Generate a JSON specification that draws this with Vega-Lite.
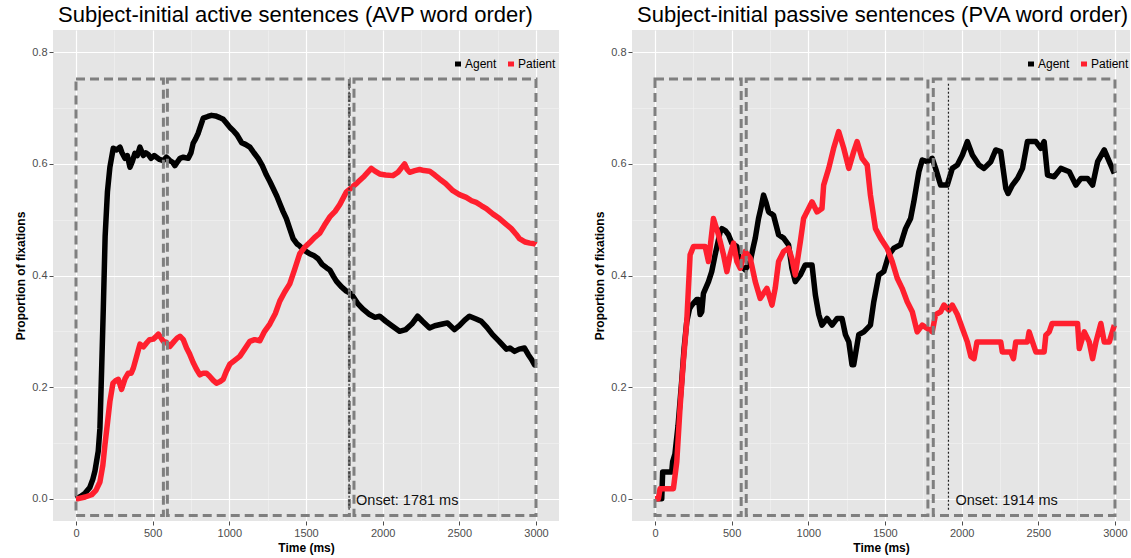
{
  "$schema": "https://vega.github.io/schema/vega-lite/v6.json",
  "background": "white",
  "padding": {"left": 14, "top": 4, "right": 0, "bottom": 4},
  "spacing": 34,
  "config": {
    "font": "Liberation Sans",
    "view": {"fill": "#E5E5E5", "stroke": null},
    "axis": {"domain": false, "labelColor": "#4D4D4D", "labelFontSize": 11, "labelPadding": 2, "tickColor": "#4D4D4D", "tickSize": 4, "titleFontSize": 12, "titleFontWeight": "bold", "titleColor": "black", "gridColor": "white"},
    "axisY": {"titlePadding": 4},
    "axisX": {"titlePadding": 4},
    "title": {"fontSize": 22, "fontWeight": "normal", "anchor": "start", "frame": "group", "dx": 5, "color": "black", "offset": 3},
    "legend": {"labelFontSize": 12, "labelColor": "black", "symbolType": "stroke", "symbolStrokeWidth": 5, "symbolSize": 36, "columnPadding": 1, "labelOffset": 1, "padding": 0}
  },
  "resolve": {"scale": {"color": "independent"}},
  "datasets": {
    "avp": [
      {"t":0,"p":0,"role":"Agent"},{"t":30,"p":0.004,"role":"Agent"},{"t":60,"p":0.01,"role":"Agent"},{"t":90,"p":0.02,"role":"Agent"},{"t":110,"p":0.035,"role":"Agent"},{"t":124,"p":0.05,"role":"Agent"},{"t":145,"p":0.085,"role":"Agent"},{"t":156,"p":0.126,"role":"Agent"},{"t":167,"p":0.23,"role":"Agent"},{"t":178,"p":0.34,"role":"Agent"},{"t":190,"p":0.47,"role":"Agent"},{"t":205,"p":0.55,"role":"Agent"},{"t":221,"p":0.594,"role":"Agent"},{"t":243,"p":0.628,"role":"Agent"},{"t":265,"p":0.625,"role":"Agent"},{"t":287,"p":0.63,"role":"Agent"},{"t":300,"p":0.62,"role":"Agent"},{"t":319,"p":0.61,"role":"Agent"},{"t":335,"p":0.615,"role":"Agent"},{"t":352,"p":0.594,"role":"Agent"},{"t":368,"p":0.605,"role":"Agent"},{"t":384,"p":0.619,"role":"Agent"},{"t":400,"p":0.615,"role":"Agent"},{"t":417,"p":0.63,"role":"Agent"},{"t":439,"p":0.615,"role":"Agent"},{"t":455,"p":0.62,"role":"Agent"},{"t":471,"p":0.617,"role":"Agent"},{"t":490,"p":0.61,"role":"Agent"},{"t":510,"p":0.615,"role":"Agent"},{"t":525,"p":0.612,"role":"Agent"},{"t":545,"p":0.608,"role":"Agent"},{"t":569,"p":0.606,"role":"Agent"},{"t":590,"p":0.612,"role":"Agent"},{"t":612,"p":0.606,"role":"Agent"},{"t":630,"p":0.603,"role":"Agent"},{"t":645,"p":0.597,"role":"Agent"},{"t":660,"p":0.603,"role":"Agent"},{"t":678,"p":0.61,"role":"Agent"},{"t":700,"p":0.612,"role":"Agent"},{"t":732,"p":0.61,"role":"Agent"},{"t":750,"p":0.62,"role":"Agent"},{"t":764,"p":0.637,"role":"Agent"},{"t":780,"p":0.645,"role":"Agent"},{"t":797,"p":0.655,"role":"Agent"},{"t":815,"p":0.67,"role":"Agent"},{"t":830,"p":0.682,"role":"Agent"},{"t":860,"p":0.685,"role":"Agent"},{"t":884,"p":0.687,"role":"Agent"},{"t":910,"p":0.686,"role":"Agent"},{"t":938,"p":0.683,"role":"Agent"},{"t":960,"p":0.68,"role":"Agent"},{"t":982,"p":0.673,"role":"Agent"},{"t":1005,"p":0.665,"role":"Agent"},{"t":1025,"p":0.66,"role":"Agent"},{"t":1050,"p":0.652,"role":"Agent"},{"t":1080,"p":0.638,"role":"Agent"},{"t":1105,"p":0.635,"role":"Agent"},{"t":1134,"p":0.63,"role":"Agent"},{"t":1160,"p":0.62,"role":"Agent"},{"t":1188,"p":0.61,"role":"Agent"},{"t":1215,"p":0.597,"role":"Agent"},{"t":1242,"p":0.58,"role":"Agent"},{"t":1265,"p":0.568,"role":"Agent"},{"t":1286,"p":0.556,"role":"Agent"},{"t":1310,"p":0.542,"role":"Agent"},{"t":1329,"p":0.529,"role":"Agent"},{"t":1350,"p":0.515,"role":"Agent"},{"t":1372,"p":0.502,"role":"Agent"},{"t":1395,"p":0.483,"role":"Agent"},{"t":1416,"p":0.466,"role":"Agent"},{"t":1440,"p":0.457,"role":"Agent"},{"t":1459,"p":0.453,"role":"Agent"},{"t":1490,"p":0.445,"role":"Agent"},{"t":1524,"p":0.439,"role":"Agent"},{"t":1550,"p":0.436,"role":"Agent"},{"t":1579,"p":0.43,"role":"Agent"},{"t":1605,"p":0.42,"role":"Agent"},{"t":1633,"p":0.414,"role":"Agent"},{"t":1655,"p":0.41,"role":"Agent"},{"t":1680,"p":0.398,"role":"Agent"},{"t":1698,"p":0.39,"role":"Agent"},{"t":1730,"p":0.38,"role":"Agent"},{"t":1763,"p":0.372,"role":"Agent"},{"t":1796,"p":0.367,"role":"Agent"},{"t":1839,"p":0.349,"role":"Agent"},{"t":1870,"p":0.34,"role":"Agent"},{"t":1915,"p":0.33,"role":"Agent"},{"t":1950,"p":0.325,"role":"Agent"},{"t":1980,"p":0.327,"role":"Agent"},{"t":2020,"p":0.318,"role":"Agent"},{"t":2060,"p":0.31,"role":"Agent"},{"t":2110,"p":0.3,"role":"Agent"},{"t":2150,"p":0.303,"role":"Agent"},{"t":2190,"p":0.313,"role":"Agent"},{"t":2228,"p":0.327,"role":"Agent"},{"t":2260,"p":0.318,"role":"Agent"},{"t":2306,"p":0.306,"role":"Agent"},{"t":2340,"p":0.31,"role":"Agent"},{"t":2390,"p":0.313,"role":"Agent"},{"t":2423,"p":0.315,"role":"Agent"},{"t":2468,"p":0.303,"role":"Agent"},{"t":2500,"p":0.31,"role":"Agent"},{"t":2535,"p":0.32,"role":"Agent"},{"t":2566,"p":0.327,"role":"Agent"},{"t":2610,"p":0.322,"role":"Agent"},{"t":2643,"p":0.318,"role":"Agent"},{"t":2680,"p":0.307,"role":"Agent"},{"t":2717,"p":0.294,"role":"Agent"},{"t":2760,"p":0.282,"role":"Agent"},{"t":2807,"p":0.268,"role":"Agent"},{"t":2830,"p":0.27,"role":"Agent"},{"t":2860,"p":0.264,"role":"Agent"},{"t":2890,"p":0.268,"role":"Agent"},{"t":2925,"p":0.27,"role":"Agent"},{"t":2950,"p":0.258,"role":"Agent"},{"t":2970,"p":0.25,"role":"Agent"},{"t":2990,"p":0.24,"role":"Agent"},{"t":3000,"p":0.238,"role":"Agent"},
      {"t":0,"p":0,"role":"Patient"},{"t":15,"p":0,"role":"Patient"},{"t":60,"p":0.003,"role":"Patient"},{"t":102,"p":0.007,"role":"Patient"},{"t":130,"p":0.015,"role":"Patient"},{"t":156,"p":0.03,"role":"Patient"},{"t":175,"p":0.06,"role":"Patient"},{"t":189,"p":0.097,"role":"Patient"},{"t":205,"p":0.135,"role":"Patient"},{"t":221,"p":0.174,"role":"Patient"},{"t":241,"p":0.207,"role":"Patient"},{"t":260,"p":0.212,"role":"Patient"},{"t":276,"p":0.214,"role":"Patient"},{"t":297,"p":0.196,"role":"Patient"},{"t":320,"p":0.215,"role":"Patient"},{"t":341,"p":0.225,"role":"Patient"},{"t":360,"p":0.225,"role":"Patient"},{"t":374,"p":0.234,"role":"Patient"},{"t":395,"p":0.255,"role":"Patient"},{"t":417,"p":0.277,"role":"Patient"},{"t":440,"p":0.272,"role":"Patient"},{"t":460,"p":0.279,"role":"Patient"},{"t":480,"p":0.285,"role":"Patient"},{"t":504,"p":0.286,"role":"Patient"},{"t":520,"p":0.29,"role":"Patient"},{"t":537,"p":0.295,"role":"Patient"},{"t":555,"p":0.288,"role":"Patient"},{"t":569,"p":0.282,"role":"Patient"},{"t":590,"p":0.28,"role":"Patient"},{"t":612,"p":0.273,"role":"Patient"},{"t":640,"p":0.282,"role":"Patient"},{"t":660,"p":0.288,"role":"Patient"},{"t":678,"p":0.291,"role":"Patient"},{"t":700,"p":0.285,"role":"Patient"},{"t":721,"p":0.27,"role":"Patient"},{"t":740,"p":0.26,"role":"Patient"},{"t":764,"p":0.244,"role":"Patient"},{"t":786,"p":0.232,"role":"Patient"},{"t":808,"p":0.222,"role":"Patient"},{"t":830,"p":0.225,"role":"Patient"},{"t":851,"p":0.225,"role":"Patient"},{"t":870,"p":0.22,"role":"Patient"},{"t":895,"p":0.212,"role":"Patient"},{"t":916,"p":0.207,"role":"Patient"},{"t":940,"p":0.21,"role":"Patient"},{"t":960,"p":0.214,"role":"Patient"},{"t":980,"p":0.228,"role":"Patient"},{"t":1003,"p":0.241,"role":"Patient"},{"t":1035,"p":0.248,"role":"Patient"},{"t":1068,"p":0.255,"role":"Patient"},{"t":1100,"p":0.268,"role":"Patient"},{"t":1134,"p":0.282,"role":"Patient"},{"t":1165,"p":0.285,"role":"Patient"},{"t":1199,"p":0.283,"role":"Patient"},{"t":1230,"p":0.3,"role":"Patient"},{"t":1264,"p":0.313,"role":"Patient"},{"t":1300,"p":0.332,"role":"Patient"},{"t":1329,"p":0.354,"role":"Patient"},{"t":1360,"p":0.37,"role":"Patient"},{"t":1394,"p":0.385,"role":"Patient"},{"t":1425,"p":0.41,"role":"Patient"},{"t":1459,"p":0.439,"role":"Patient"},{"t":1490,"p":0.45,"role":"Patient"},{"t":1524,"p":0.459,"role":"Patient"},{"t":1555,"p":0.468,"role":"Patient"},{"t":1590,"p":0.476,"role":"Patient"},{"t":1620,"p":0.49,"role":"Patient"},{"t":1655,"p":0.505,"role":"Patient"},{"t":1690,"p":0.515,"role":"Patient"},{"t":1720,"p":0.527,"role":"Patient"},{"t":1764,"p":0.55,"role":"Patient"},{"t":1800,"p":0.558,"role":"Patient"},{"t":1837,"p":0.567,"role":"Patient"},{"t":1880,"p":0.578,"role":"Patient"},{"t":1926,"p":0.592,"role":"Patient"},{"t":1950,"p":0.587,"role":"Patient"},{"t":1980,"p":0.582,"role":"Patient"},{"t":2020,"p":0.58,"role":"Patient"},{"t":2067,"p":0.579,"role":"Patient"},{"t":2100,"p":0.585,"role":"Patient"},{"t":2143,"p":0.6,"role":"Patient"},{"t":2160,"p":0.59,"role":"Patient"},{"t":2176,"p":0.585,"role":"Patient"},{"t":2210,"p":0.588,"role":"Patient"},{"t":2241,"p":0.59,"role":"Patient"},{"t":2270,"p":0.588,"role":"Patient"},{"t":2306,"p":0.587,"role":"Patient"},{"t":2340,"p":0.58,"role":"Patient"},{"t":2371,"p":0.573,"role":"Patient"},{"t":2410,"p":0.565,"role":"Patient"},{"t":2458,"p":0.552,"role":"Patient"},{"t":2500,"p":0.545,"role":"Patient"},{"t":2545,"p":0.54,"role":"Patient"},{"t":2580,"p":0.534,"role":"Patient"},{"t":2610,"p":0.531,"role":"Patient"},{"t":2645,"p":0.525,"role":"Patient"},{"t":2676,"p":0.52,"role":"Patient"},{"t":2720,"p":0.51,"role":"Patient"},{"t":2762,"p":0.502,"role":"Patient"},{"t":2800,"p":0.493,"role":"Patient"},{"t":2839,"p":0.484,"role":"Patient"},{"t":2870,"p":0.474,"role":"Patient"},{"t":2892,"p":0.466,"role":"Patient"},{"t":2930,"p":0.46,"role":"Patient"},{"t":2960,"p":0.458,"role":"Patient"},{"t":2990,"p":0.457,"role":"Patient"},{"t":3000,"p":0.455,"role":"Patient"}
    ],
    "pva": [
      {"t":0,"p":0,"role":"Agent"},{"t":44,"p":0,"role":"Agent"},{"t":50,"p":0.048,"role":"Agent"},{"t":109,"p":0.048,"role":"Agent"},{"t":115,"p":0.066,"role":"Agent"},{"t":130,"p":0.08,"role":"Agent"},{"t":150,"p":0.13,"role":"Agent"},{"t":174,"p":0.21,"role":"Agent"},{"t":190,"p":0.27,"role":"Agent"},{"t":207,"p":0.317,"role":"Agent"},{"t":225,"p":0.34,"role":"Agent"},{"t":240,"p":0.347,"role":"Agent"},{"t":272,"p":0.357,"role":"Agent"},{"t":285,"p":0.357,"role":"Agent"},{"t":294,"p":0.33,"role":"Agent"},{"t":305,"p":0.335,"role":"Agent"},{"t":316,"p":0.368,"role":"Agent"},{"t":349,"p":0.389,"role":"Agent"},{"t":370,"p":0.407,"role":"Agent"},{"t":392,"p":0.437,"role":"Agent"},{"t":425,"p":0.478,"role":"Agent"},{"t":436,"p":0.484,"role":"Agent"},{"t":460,"p":0.48,"role":"Agent"},{"t":479,"p":0.473,"role":"Agent"},{"t":501,"p":0.458,"role":"Agent"},{"t":534,"p":0.452,"role":"Agent"},{"t":556,"p":0.419,"role":"Agent"},{"t":588,"p":0.41,"role":"Agent"},{"t":621,"p":0.425,"role":"Agent"},{"t":640,"p":0.45,"role":"Agent"},{"t":654,"p":0.467,"role":"Agent"},{"t":675,"p":0.502,"role":"Agent"},{"t":690,"p":0.52,"role":"Agent"},{"t":708,"p":0.544,"role":"Agent"},{"t":725,"p":0.53,"role":"Agent"},{"t":741,"p":0.514,"role":"Agent"},{"t":773,"p":0.508,"role":"Agent"},{"t":790,"p":0.49,"role":"Agent"},{"t":806,"p":0.473,"role":"Agent"},{"t":839,"p":0.467,"role":"Agent"},{"t":871,"p":0.455,"role":"Agent"},{"t":893,"p":0.413,"role":"Agent"},{"t":915,"p":0.389,"role":"Agent"},{"t":948,"p":0.401,"role":"Agent"},{"t":980,"p":0.419,"role":"Agent"},{"t":1024,"p":0.419,"role":"Agent"},{"t":1046,"p":0.365,"role":"Agent"},{"t":1068,"p":0.33,"role":"Agent"},{"t":1089,"p":0.311,"role":"Agent"},{"t":1122,"p":0.323,"role":"Agent"},{"t":1155,"p":0.311,"role":"Agent"},{"t":1188,"p":0.323,"role":"Agent"},{"t":1220,"p":0.323,"role":"Agent"},{"t":1242,"p":0.294,"role":"Agent"},{"t":1264,"p":0.281,"role":"Agent"},{"t":1285,"p":0.24,"role":"Agent"},{"t":1296,"p":0.24,"role":"Agent"},{"t":1307,"p":0.258,"role":"Agent"},{"t":1329,"p":0.294,"role":"Agent"},{"t":1362,"p":0.299,"role":"Agent"},{"t":1405,"p":0.311,"role":"Agent"},{"t":1427,"p":0.353,"role":"Agent"},{"t":1460,"p":0.401,"role":"Agent"},{"t":1492,"p":0.407,"role":"Agent"},{"t":1525,"p":0.437,"role":"Agent"},{"t":1558,"p":0.449,"role":"Agent"},{"t":1601,"p":0.455,"role":"Agent"},{"t":1634,"p":0.484,"role":"Agent"},{"t":1667,"p":0.502,"role":"Agent"},{"t":1688,"p":0.532,"role":"Agent"},{"t":1721,"p":0.586,"role":"Agent"},{"t":1743,"p":0.607,"role":"Agent"},{"t":1776,"p":0.604,"role":"Agent"},{"t":1808,"p":0.61,"role":"Agent"},{"t":1830,"p":0.592,"role":"Agent"},{"t":1863,"p":0.562,"role":"Agent"},{"t":1906,"p":0.562,"role":"Agent"},{"t":1939,"p":0.592,"role":"Agent"},{"t":1972,"p":0.598,"role":"Agent"},{"t":2005,"p":0.616,"role":"Agent"},{"t":2037,"p":0.64,"role":"Agent"},{"t":2070,"p":0.616,"role":"Agent"},{"t":2113,"p":0.598,"role":"Agent"},{"t":2146,"p":0.592,"role":"Agent"},{"t":2190,"p":0.604,"role":"Agent"},{"t":2222,"p":0.625,"role":"Agent"},{"t":2255,"p":0.622,"role":"Agent"},{"t":2288,"p":0.556,"role":"Agent"},{"t":2303,"p":0.547,"role":"Agent"},{"t":2331,"p":0.562,"role":"Agent"},{"t":2364,"p":0.574,"role":"Agent"},{"t":2397,"p":0.592,"role":"Agent"},{"t":2429,"p":0.64,"role":"Agent"},{"t":2484,"p":0.64,"role":"Agent"},{"t":2516,"p":0.628,"role":"Agent"},{"t":2538,"p":0.64,"role":"Agent"},{"t":2560,"p":0.58,"role":"Agent"},{"t":2603,"p":0.577,"role":"Agent"},{"t":2647,"p":0.592,"role":"Agent"},{"t":2702,"p":0.586,"role":"Agent"},{"t":2745,"p":0.562,"role":"Agent"},{"t":2778,"p":0.574,"role":"Agent"},{"t":2821,"p":0.574,"role":"Agent"},{"t":2854,"p":0.562,"role":"Agent"},{"t":2887,"p":0.604,"role":"Agent"},{"t":2930,"p":0.625,"role":"Agent"},{"t":2963,"p":0.604,"role":"Agent"},{"t":2996,"p":0.583,"role":"Agent"},
      {"t":0,"p":0,"role":"Patient"},{"t":22,"p":0,"role":"Patient"},{"t":33,"p":0.018,"role":"Patient"},{"t":120,"p":0.018,"role":"Patient"},{"t":142,"p":0.066,"role":"Patient"},{"t":163,"p":0.162,"role":"Patient"},{"t":185,"p":0.246,"role":"Patient"},{"t":207,"p":0.317,"role":"Patient"},{"t":229,"p":0.437,"role":"Patient"},{"t":251,"p":0.452,"role":"Patient"},{"t":327,"p":0.452,"role":"Patient"},{"t":349,"p":0.425,"role":"Patient"},{"t":381,"p":0.502,"role":"Patient"},{"t":414,"p":0.473,"role":"Patient"},{"t":447,"p":0.437,"role":"Patient"},{"t":469,"p":0.407,"role":"Patient"},{"t":490,"p":0.437,"role":"Patient"},{"t":512,"p":0.458,"role":"Patient"},{"t":534,"p":0.425,"role":"Patient"},{"t":556,"p":0.413,"role":"Patient"},{"t":588,"p":0.443,"role":"Patient"},{"t":621,"p":0.431,"role":"Patient"},{"t":654,"p":0.389,"role":"Patient"},{"t":686,"p":0.359,"role":"Patient"},{"t":730,"p":0.377,"role":"Patient"},{"t":763,"p":0.347,"role":"Patient"},{"t":784,"p":0.377,"role":"Patient"},{"t":806,"p":0.425,"role":"Patient"},{"t":839,"p":0.443,"role":"Patient"},{"t":871,"p":0.449,"role":"Patient"},{"t":893,"p":0.43,"role":"Patient"},{"t":915,"p":0.401,"role":"Patient"},{"t":948,"p":0.461,"role":"Patient"},{"t":969,"p":0.502,"role":"Patient"},{"t":1002,"p":0.52,"role":"Patient"},{"t":1024,"p":0.532,"role":"Patient"},{"t":1057,"p":0.514,"role":"Patient"},{"t":1089,"p":0.52,"role":"Patient"},{"t":1100,"p":0.562,"role":"Patient"},{"t":1133,"p":0.592,"role":"Patient"},{"t":1165,"p":0.628,"role":"Patient"},{"t":1198,"p":0.658,"role":"Patient"},{"t":1231,"p":0.628,"role":"Patient"},{"t":1264,"p":0.592,"role":"Patient"},{"t":1296,"p":0.622,"role":"Patient"},{"t":1318,"p":0.64,"role":"Patient"},{"t":1351,"p":0.61,"role":"Patient"},{"t":1384,"p":0.598,"role":"Patient"},{"t":1405,"p":0.544,"role":"Patient"},{"t":1438,"p":0.484,"role":"Patient"},{"t":1471,"p":0.467,"role":"Patient"},{"t":1514,"p":0.449,"role":"Patient"},{"t":1547,"p":0.425,"role":"Patient"},{"t":1580,"p":0.395,"role":"Patient"},{"t":1612,"p":0.377,"role":"Patient"},{"t":1645,"p":0.353,"role":"Patient"},{"t":1678,"p":0.335,"role":"Patient"},{"t":1710,"p":0.299,"role":"Patient"},{"t":1743,"p":0.311,"role":"Patient"},{"t":1776,"p":0.305,"role":"Patient"},{"t":1808,"p":0.299,"role":"Patient"},{"t":1830,"p":0.33,"role":"Patient"},{"t":1863,"p":0.335,"role":"Patient"},{"t":1884,"p":0.347,"role":"Patient"},{"t":1917,"p":0.338,"role":"Patient"},{"t":1939,"p":0.347,"role":"Patient"},{"t":1972,"p":0.33,"role":"Patient"},{"t":2005,"p":0.305,"role":"Patient"},{"t":2037,"p":0.281,"role":"Patient"},{"t":2060,"p":0.255,"role":"Patient"},{"t":2081,"p":0.251,"role":"Patient"},{"t":2100,"p":0.281,"role":"Patient"},{"t":2255,"p":0.281,"role":"Patient"},{"t":2265,"p":0.263,"role":"Patient"},{"t":2320,"p":0.263,"role":"Patient"},{"t":2338,"p":0.251,"role":"Patient"},{"t":2353,"p":0.281,"role":"Patient"},{"t":2429,"p":0.281,"role":"Patient"},{"t":2440,"p":0.299,"role":"Patient"},{"t":2462,"p":0.281,"role":"Patient"},{"t":2484,"p":0.263,"role":"Patient"},{"t":2538,"p":0.263,"role":"Patient"},{"t":2549,"p":0.293,"role":"Patient"},{"t":2571,"p":0.299,"role":"Patient"},{"t":2590,"p":0.314,"role":"Patient"},{"t":2756,"p":0.314,"role":"Patient"},{"t":2767,"p":0.269,"role":"Patient"},{"t":2800,"p":0.299,"role":"Patient"},{"t":2832,"p":0.281,"role":"Patient"},{"t":2854,"p":0.251,"role":"Patient"},{"t":2876,"p":0.281,"role":"Patient"},{"t":2908,"p":0.314,"role":"Patient"},{"t":2930,"p":0.281,"role":"Patient"},{"t":2963,"p":0.281,"role":"Patient"},{"t":2996,"p":0.311,"role":"Patient"}
    ]
  },
  "hconcat": [
    {
      "title": "Subject-initial active sentences (AVP word order)",
      "width": 506,
      "height": 491,
      "layer": [
        {
          "data": {"name": "avp"},
          "mark": {"type": "line", "strokeWidth": 5.5, "strokeJoin": "round", "clip": true},
          "encoding": {
            "x": {"field": "t", "type": "quantitative", "title": "Time (ms)",
              "scale": {"domain": [-150, 3150], "nice": false, "zero": false},
              "axis": {"values": [0,250,500,750,1000,1250,1500,1750,2000,2250,2500,2750,3000], "format": "d",
                "labelExpr": "datum.value % 500 === 0 ? datum.label : ''",
                "tickOpacity": {"condition": {"test": "datum.value % 500 !== 0", "value": 0}, "value": 1},
                "gridColor": {"condition": {"test": "datum.value % 500 !== 0", "value": "#F2F2F2"}, "value": "#FFFFFF"},
                "gridWidth": {"condition": {"test": "datum.value % 500 !== 0", "value": 0.6}, "value": 1.2}}},
            "y": {"field": "p", "type": "quantitative", "title": "Proportion of fixations",
              "scale": {"domain": [-0.04, 0.84], "nice": false, "zero": false},
              "axis": {"values": [0,0.1,0.2,0.3,0.4,0.5,0.6,0.7,0.8],
                "labelExpr": "abs(datum.value*5 - round(datum.value*5)) < 0.001 ? format(datum.value, '.1f') : ''",
                "tickOpacity": {"condition": {"test": "abs(datum.value*5 - round(datum.value*5)) > 0.001", "value": 0}, "value": 1},
                "gridColor": {"condition": {"test": "abs(datum.value*5 - round(datum.value*5)) > 0.001", "value": "#F2F2F2"}, "value": "#FFFFFF"},
                "gridWidth": {"condition": {"test": "abs(datum.value*5 - round(datum.value*5)) > 0.001", "value": 0.6}, "value": 1.2}}},
            "color": {"field": "role", "type": "nominal",
              "scale": {"domain": ["Agent", "Patient"], "range": ["#000000", "#FF1F2E"]},
              "legend": {"title": null, "orient": "none", "legendX": 399, "legendY": 28, "direction": "horizontal"}}
          }
        },
        {
          "data": {"values": [{"x0": 0, "x1": 570, "y0": -0.03, "y1": 0.752}, {"x0": 596, "x1": 1783, "y0": -0.03, "y1": 0.752}, {"x0": 1813, "x1": 3000, "y0": -0.03, "y1": 0.752}]},
          "mark": {"type": "rect", "filled": false, "stroke": "#7F7F7F", "strokeWidth": 3, "strokeDash": [9, 5]},
          "encoding": {
            "x": {"field": "x0", "type": "quantitative", "title": "Time (ms)"},
            "x2": {"field": "x1"},
            "y": {"field": "y0", "type": "quantitative", "title": "Proportion of fixations"},
            "y2": {"field": "y1"}
          }
        },
        {
          "data": {"values": [{"onset": 1781, "lo": -0.02, "hi": 0.745, "label": "Onset: 1781 ms"}]},
          "mark": {"type": "rule", "strokeDash": [2, 2], "strokeWidth": 1.2, "color": "#222222"},
          "encoding": {
            "x": {"field": "onset", "type": "quantitative", "title": "Time (ms)"},
            "y": {"field": "lo", "type": "quantitative", "title": "Proportion of fixations"},
            "y2": {"field": "hi"}
          }
        },
        {
          "data": {"values": [{"onset": 1781, "label": "Onset: 1781 ms"}]},
          "mark": {"type": "text", "align": "left", "baseline": "middle", "dx": 7, "fontSize": 14.5, "color": "#111111"},
          "encoding": {
            "x": {"field": "onset", "type": "quantitative", "title": "Time (ms)"},
            "y": {"datum": -0.004, "type": "quantitative", "title": "Proportion of fixations"},
            "text": {"field": "label"}
          }
        }
      ]
    },
    {
      "title": "Subject-initial passive sentences (PVA word order)",
      "width": 498,
      "height": 491,
      "layer": [
        {
          "data": {"name": "pva"},
          "mark": {"type": "line", "strokeWidth": 5.5, "strokeJoin": "round", "clip": true},
          "encoding": {
            "x": {"field": "t", "type": "quantitative", "title": "Time (ms)",
              "scale": {"domain": [-150, 3098], "nice": false, "zero": false},
              "axis": {"values": [0,250,500,750,1000,1250,1500,1750,2000,2250,2500,2750,3000], "format": "d",
                "labelExpr": "datum.value % 500 === 0 ? datum.label : ''",
                "tickOpacity": {"condition": {"test": "datum.value % 500 !== 0", "value": 0}, "value": 1},
                "gridColor": {"condition": {"test": "datum.value % 500 !== 0", "value": "#F2F2F2"}, "value": "#FFFFFF"},
                "gridWidth": {"condition": {"test": "datum.value % 500 !== 0", "value": 0.6}, "value": 1.2}}},
            "y": {"field": "p", "type": "quantitative", "title": "Proportion of fixations",
              "scale": {"domain": [-0.04, 0.84], "nice": false, "zero": false},
              "axis": {"values": [0,0.1,0.2,0.3,0.4,0.5,0.6,0.7,0.8],
                "labelExpr": "abs(datum.value*5 - round(datum.value*5)) < 0.001 ? format(datum.value, '.1f') : ''",
                "tickOpacity": {"condition": {"test": "abs(datum.value*5 - round(datum.value*5)) > 0.001", "value": 0}, "value": 1},
                "gridColor": {"condition": {"test": "abs(datum.value*5 - round(datum.value*5)) > 0.001", "value": "#F2F2F2"}, "value": "#FFFFFF"},
                "gridWidth": {"condition": {"test": "abs(datum.value*5 - round(datum.value*5)) > 0.001", "value": 0.6}, "value": 1.2}}},
            "color": {"field": "role", "type": "nominal",
              "scale": {"domain": ["Agent", "Patient"], "range": ["#000000", "#FF1F2E"]},
              "legend": {"title": null, "orient": "none", "legendX": 393, "legendY": 28, "direction": "horizontal"}}
          }
        },
        {
          "data": {"values": [{"x0": 0, "x1": 562, "y0": -0.03, "y1": 0.752}, {"x0": 595, "x1": 1780, "y0": -0.03, "y1": 0.752}, {"x0": 1815, "x1": 3000, "y0": -0.03, "y1": 0.752}]},
          "mark": {"type": "rect", "filled": false, "stroke": "#7F7F7F", "strokeWidth": 3, "strokeDash": [9, 5]},
          "encoding": {
            "x": {"field": "x0", "type": "quantitative", "title": "Time (ms)"},
            "x2": {"field": "x1"},
            "y": {"field": "y0", "type": "quantitative", "title": "Proportion of fixations"},
            "y2": {"field": "y1"}
          }
        },
        {
          "data": {"values": [{"onset": 1914, "lo": -0.02, "hi": 0.745, "label": "Onset: 1914 ms"}]},
          "mark": {"type": "rule", "strokeDash": [2, 2], "strokeWidth": 1.2, "color": "#222222"},
          "encoding": {
            "x": {"field": "onset", "type": "quantitative", "title": "Time (ms)"},
            "y": {"field": "lo", "type": "quantitative", "title": "Proportion of fixations"},
            "y2": {"field": "hi"}
          }
        },
        {
          "data": {"values": [{"onset": 1914, "label": "Onset: 1914 ms"}]},
          "mark": {"type": "text", "align": "left", "baseline": "middle", "dx": 7, "fontSize": 14.5, "color": "#111111"},
          "encoding": {
            "x": {"field": "onset", "type": "quantitative", "title": "Time (ms)"},
            "y": {"datum": -0.004, "type": "quantitative", "title": "Proportion of fixations"},
            "text": {"field": "label"}
          }
        }
      ]
    }
  ]
}
